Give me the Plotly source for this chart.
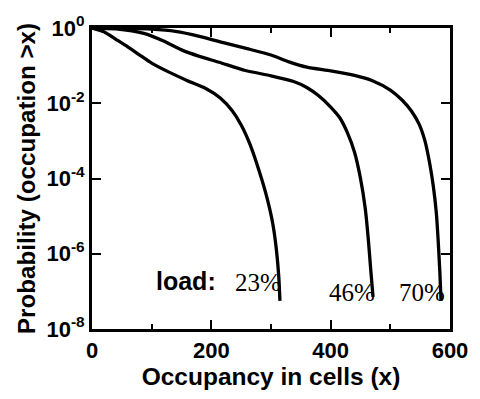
import plotly.graph_objects as go

# Occupancy (cells) and probability P(occupation > x) for each load
x23 = [0, 20, 40, 60, 80, 100, 130, 160, 190, 215, 235, 250, 265, 280, 293, 303, 309, 313, 315]
p23 = [1.0, 0.794, 0.501, 0.316, 0.191, 0.117, 0.0661, 0.0398, 0.0251, 0.0138, 0.00631,
       0.00263, 7.9e-4, 1.6e-4, 3.2e-5, 6.3e-6, 1.3e-6, 2.5e-7, 5.6e-8]

x46 = [0, 40, 87, 120, 150, 180, 213, 257, 300, 338, 360, 380, 400, 415, 428, 440, 450, 458, 463, 467, 471]
p46 = [1.0, 0.95, 0.72, 0.45, 0.262, 0.176, 0.123, 0.0741, 0.0537, 0.0380, 0.0263, 0.0158,
       0.00794, 0.00417, 0.00166, 5.0e-4, 1.0e-4, 1.58e-5, 2.5e-6, 4.0e-7, 7.1e-8]

x70 = [0, 60, 100, 140, 180, 220, 260, 300, 330, 360, 400, 440, 470, 500, 520, 535, 548, 558,
       566, 572, 577, 580, 583, 585]
p70 = [1.0, 0.977, 0.933, 0.813, 0.603, 0.407, 0.282, 0.191, 0.126, 0.0912, 0.0724, 0.0550,
       0.0398, 0.0224, 0.0120, 0.00631, 0.00282, 0.001, 2.5e-4, 6.3e-5, 1.26e-5, 2.5e-6, 3.2e-7, 5.6e-8]

load_labels = ["23%", "46%", "70%"]

x_tickvals = [0, 200, 400, 600]
x_minor = [100, 300, 500]
y_tickvals = [1, 1e-2, 1e-4, 1e-6, 1e-8]
y_ticktext = ["10<sup>0</sup>", "10<sup>-2</sup>", "10<sup>-4</sup>", "10<sup>-6</sup>", "10<sup>-8</sup>"]

SANS = "Liberation Sans"
fig = go.Figure()
for xs, ps in [(x23, p23), (x46, p46), (x70, p70)]:
    fig.add_trace(go.Scatter(x=xs, y=ps, mode="lines",
                             line=dict(color="black", width=3.3, shape="spline", smoothing=0.6),
                             hoverinfo="skip"))

axis_common = dict(showline=True, linewidth=3, linecolor="black", mirror="ticks",
                   ticks="inside", ticklen=9, tickwidth=2, tickcolor="black",
                   showgrid=False, zeroline=False)

fig.update_xaxes(range=[0, 600], tickvals=x_tickvals,
                 tickfont=dict(size=22, family=SANS, color="black", weight="bold"),
                 minor=dict(tickvals=x_minor, ticks="inside", ticklen=5, tickwidth=2, tickcolor="black"),
                 title=dict(text="Occupancy in cells (x)",
                            font=dict(size=24.5, family=SANS, color="black", weight="bold"),
                            standoff=6),
                 **axis_common)
fig.update_yaxes(type="log", range=[-8, 0], tickvals=y_tickvals, ticktext=y_ticktext,
                 tickfont=dict(size=22, family=SANS, color="black", weight="bold"),
                 title=dict(text="Probability (occupation >x)",
                            font=dict(size=24.2, family=SANS, color="black", weight="bold"),
                            standoff=4),
                 **axis_common)

annots = [("load:", 0.262, 0.158, SANS, 25, "bold")]
annots += [(load_labels[0], 0.463, 0.155, "Liberation Serif", 25, "normal"),
           (load_labels[1], 0.727, 0.120, "Liberation Serif", 25, "normal"),
           (load_labels[2], 0.923, 0.120, "Liberation Serif", 25, "normal")]
for txt, ax_, ay_, fam, sz, wt in annots:
    fig.add_annotation(text=txt, x=ax_, y=ay_, xref="paper", yref="paper", showarrow=False,
                       xanchor="center", yanchor="middle",
                       font=dict(size=sz, family=fam, color="black", weight=wt))

fig.update_layout(width=480, height=399, margin=dict(l=92, r=25, t=22, b=61),
                  plot_bgcolor="white", paper_bgcolor="white", showlegend=False)

fig.write_html("out.html")
